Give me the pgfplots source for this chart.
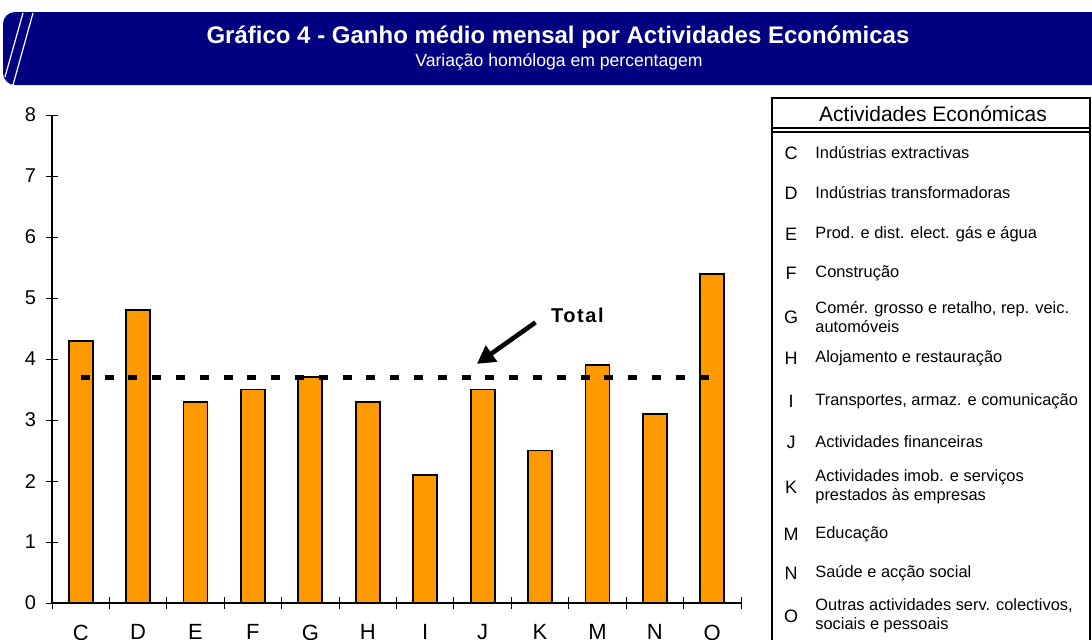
\documentclass[border=0pt]{standalone}
\usepackage{fontspec}
\setmainfont{Liberation Sans}
\usepackage{pgfplots}
\pgfplotsset{compat=1.18}
\usetikzlibrary{arrows.meta}
\definecolor{navyband}{RGB}{0,0,128}
\definecolor{barorange}{RGB}{255,153,0}

\begin{document}
\begin{tikzpicture}
  \begin{axis}[
      at={(26pt,-301.5pt)}, anchor=south west,
      scale only axis, width=344.5pt, height=244pt,
      xmin=-0.5, xmax=11.5, ymin=0, ymax=8,
      axis lines*=left,
      axis line style={line width=0.6pt},
      xtick={0,...,11},
      xticklabels={C,D,E,F,G,H,I,J,K,M,N,O},
      major x tick style={draw=none},
      minor xtick={-0.5,0.5,...,11.5},
      ytick={0,...,8},
      tick align=center,
      major tick length=6pt,
      minor tick length=6pt,
      tick style={black, line width=0.5pt},
      /pgf/number format/assume math mode=true,
      yticklabel style={font=\fontsize{10}{11}\selectfont, xshift=-1.5pt},
      xticklabel style={font=\fontsize{11}{12}\selectfont, yshift=-4.3pt},
      clip=false]
    % ganho medio mensal, variacao homologa (%)
    \addplot[ybar, bar width=12pt, fill=barorange, draw=black, line width=0.9pt]
    coordinates {
        (0,4.3) (1,4.8) (2,3.3) (3,3.5) (4,3.7) (5,3.3)
        (6,2.1) (7,3.5) (8,2.5) (9,3.9) (10,3.1) (11,5.4)
      };
    % total
    \addplot[black, line width=2.5pt, dash pattern=on 4.5pt off 7.4pt]
    coordinates {(0,3.7) (11,3.7)};
    \draw[line width=2.3pt, -{Triangle[length=9pt,width=9.5pt]}]
      (axis cs:7.92,4.6) -- (axis cs:6.9,3.92);
    \node[font=\fontsize{10}{11}\selectfont\bfseries\addfontfeature{LetterSpace=8}]
      at (axis cs:8.65,4.72) {Total};
  \end{axis}

  \begin{scope}[x=0.5pt, y=-0.5pt]
    % faixa do titulo
    \fill[navyband, rounded corners=6pt] (3,12) rectangle (1110,85);
    \draw[white, line width=0.6pt] (23,13) -- (5,77);
    \draw[white, line width=0.6pt] (33,13) -- (13,85);
    \node[white, font=\fontsize{12}{14}\selectfont\bfseries] at (558,37)
      {Gráfico 4 - Ganho médio mensal por Actividades Económicas};
    \node[white, font=\fontsize{8.8}{10}\selectfont] at (559,62)
      {Variação homóloga em percentagem};

    % legenda
    \draw[line width=1pt] (772,98) rectangle (1090,660);
    \draw[line width=0.8pt] (772,128) -- (1090,128);
    \draw[line width=0.8pt] (772,132) -- (1090,132);
    \node[font=\fontsize{10.5}{12}\selectfont] at (933,114) {Actividades Económicas};
    \foreach \y/\l/\t in {
        153/C/{Indústrias extractivas},
        193/D/{Indústrias transformadoras},
        234/E/{Prod. e dist. elect. gás e água},
        273/F/{Construção},
        317/G/{Comér. grosso e retalho, rep. veic.\\automóveis},
        358/H/{Alojamento e restauração},
        401/I/{Transportes, armaz. e comunicação},
        442/J/{Actividades financeiras},
        487/K/{Actividades imob. e serviços\\prestados às empresas},
        534/M/{Educação},
        573/N/{Saúde e acção social},
        616/O/{Outras actividades serv. colectivos,\\sociais e pessoais}} {
      \node[font=\fontsize{9}{10}\selectfont] at (791,\y) {\l};
      \node[anchor=west, align=left, inner sep=0pt,
        font=\fontsize{8.2}{9.6}\selectfont] at (815,\y) {\t};
    }
    \pgfresetboundingbox
    \path (0,0) rectangle (1092,639);
  \end{scope}
\end{tikzpicture}
\end{document}
